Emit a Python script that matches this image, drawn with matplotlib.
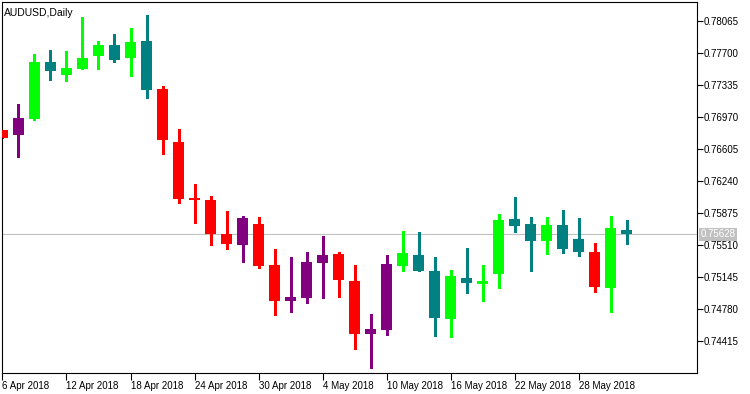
import numpy as np
import pandas as pd
import matplotlib
matplotlib.use('Agg')
import matplotlib.pyplot as plt

plt.rcParams['font.family'] = ['Liberation Sans', 'DejaVu Sans']

# Daily AUDUSD bars, 6 Apr 2018 - 31 May 2018
dates = pd.bdate_range('2018-04-06', '2018-05-31')

opens = [0.768194, 0.767624, 0.769449, 0.775950, 0.774467, 0.775152, 0.776635, 0.777889,
         0.776407, 0.778346, 0.772871, 0.766825, 0.760438, 0.760210, 0.756332, 0.755077,
         0.757473, 0.752796, 0.748690, 0.749032, 0.753024, 0.754051, 0.750971, 0.744926,
         0.745382, 0.752682, 0.753937, 0.752112, 0.746637, 0.751313, 0.750629, 0.751770,
         0.758043, 0.757473, 0.755534, 0.757358, 0.755762, 0.754279, 0.750173, 0.756788]
highs = [0.768194, 0.771160, 0.776863, 0.777319, 0.777205, 0.781083, 0.778346, 0.779144,
         0.779828, 0.781311, 0.773213, 0.768308, 0.762035, 0.760666, 0.758955, 0.758385,
         0.758271, 0.754621, 0.753709, 0.754279, 0.756104, 0.754279, 0.752796, 0.747207,
         0.753937, 0.756674, 0.756560, 0.753709, 0.752226, 0.754735, 0.752796, 0.758613,
         0.760552, 0.758271, 0.758271, 0.759069, 0.758157, 0.755305, 0.758385, 0.757929]
lows = [0.767282, 0.765115, 0.769335, 0.773897, 0.773783, 0.775152, 0.775152, 0.775950,
        0.774353, 0.771844, 0.765457, 0.759868, 0.757587, 0.755077, 0.754621, 0.753138,
        0.752454, 0.747093, 0.747435, 0.748462, 0.749032, 0.749146, 0.743215, 0.741048,
        0.744812, 0.752112, 0.752112, 0.744698, 0.744584, 0.749602, 0.748690, 0.750173,
        0.756560, 0.752112, 0.754051, 0.754165, 0.753823, 0.749716, 0.747435, 0.755191]
closes = [0.767282, 0.769563, 0.775950, 0.774924, 0.775266, 0.776407, 0.777889, 0.776178,
          0.778231, 0.772757, 0.767054, 0.760324, 0.760210, 0.756332, 0.755191, 0.758157,
          0.752682, 0.748690, 0.749146, 0.753138, 0.753937, 0.751085, 0.744926, 0.745496,
          0.752910, 0.754165, 0.752112, 0.746751, 0.751541, 0.750743, 0.750971, 0.757929,
          0.757244, 0.755534, 0.757358, 0.754621, 0.754279, 0.750287, 0.757016, 0.756280]
# g = bull/uptrend, t = bear/uptrend, r = bear/downtrend, p = bull/downtrend
kinds = list('rpgtgggtgtrrrrrprrppprrppgttgtggttgttrgt')

yticks = [0.78065, 0.77700, 0.77335, 0.76970, 0.76605, 0.76240, 0.75875,
          0.75510, 0.75145, 0.74780, 0.74415]
last_price = 0.75628

cmap = {'g': '#00FF00', 't': '#008080', 'r': '#FF0000', 'p': '#800080'}
cols = [cmap[k] for k in kinds]

x = np.arange(len(opens))
o = np.array(opens); c = np.array(closes)

fig = plt.figure(figsize=(7.5, 3.94), dpi=100)
ax = fig.add_axes([2/750, 21/394, 695/750, 371/394])

ax.axhline(last_price, color='#C0C0C0', lw=0.8, zorder=1)
ax.vlines(x, lows, highs, colors=cols, lw=0.9, zorder=2, antialiased=False)
ax.bar(x, np.abs(c - o), bottom=np.minimum(o, c), width=0.69, color=cols,
       zorder=3, antialiased=False)

ax.set_xlim(-0.03, 43.4)
ax.set_ylim(0.740477, 0.782795)

ax.yaxis.tick_right()
ax.set_yticks(yticks)
ax.set_yticklabels(['%.5f' % v for v in yticks], fontsize=7)
ax.tick_params(axis='y', direction='out', length=4, width=0.8, pad=1)

xt = list(range(0, len(dates), 4))
ax.set_xticks(xt)
ax.set_xticklabels([f'{dates[i].day} {dates[i]:%b %Y}' for i in xt], fontsize=7, ha='left')
ax.tick_params(axis='x', direction='out', length=5, width=0.8, pad=1)
for s in ax.spines.values():
    s.set_linewidth(0.8)

# current price marker on the price scale
ax.text(1.005, last_price, '%.5f' % last_price, transform=ax.get_yaxis_transform(),
        fontsize=7, color='white', va='center', ha='left',
        bbox=dict(boxstyle='square,pad=0.15', fc='#C0C0C0', ec='none'))

ax.text(0.003, 0.985, 'AUDUSD,Daily', transform=ax.transAxes, fontsize=7.5,
        va='top', ha='left')

fig.savefig('out.png', dpi=100)
